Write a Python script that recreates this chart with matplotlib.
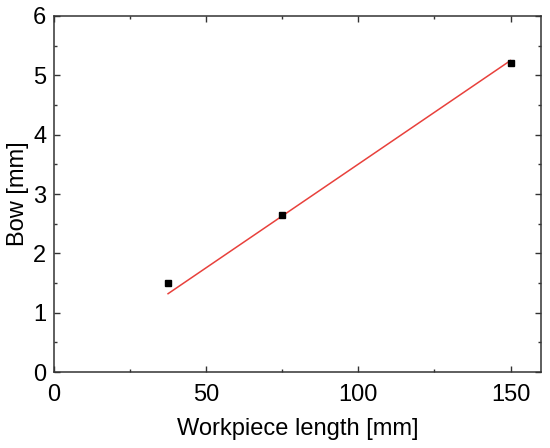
import matplotlib
matplotlib.use("Agg")
import matplotlib.pyplot as plt
from matplotlib.ticker import MultipleLocator

plt.rcParams['font.family'] = ['Liberation Sans', 'DejaVu Sans']

length = [37.5, 75, 150]
bow = [1.5, 2.65, 5.2]
fit_x = [37.5, 150]
fit_y = [1.32, 5.25]

fig = plt.figure(figsize=(5.5, 4.48), dpi=100)
ax = fig.add_axes([0.098, 0.1696, 0.8856, 0.7947])

ax.plot(fit_x, fit_y, color='#e8413c', lw=1.1, zorder=2)
ax.plot(length, bow, 's', color='black', markersize=4.5, zorder=3)

ax.set_xlim(0, 160)
ax.set_ylim(0, 6)
ax.xaxis.set_major_locator(MultipleLocator(50))
ax.xaxis.set_minor_locator(MultipleLocator(25))
ax.yaxis.set_major_locator(MultipleLocator(1))
ax.yaxis.set_minor_locator(MultipleLocator(0.5))
ax.tick_params(which='both', direction='in', top=True, right=True, colors='#333333',
               labelcolor='black', width=1)
ax.tick_params(which='major', length=4, labelsize=17)
ax.tick_params(axis='x', which='major', pad=8.5)
ax.tick_params(axis='y', which='major', pad=5.5)
ax.tick_params(which='minor', length=2.5)
for s in ax.spines.values():
    s.set_linewidth(1.1)
    s.set_color('#333333')

ax.set_xlabel('Workpiece length [mm]', fontsize=17, labelpad=9)
ax.set_ylabel('Bow [mm]', fontsize=17, labelpad=3)

fig.savefig('out.png', dpi=100)
